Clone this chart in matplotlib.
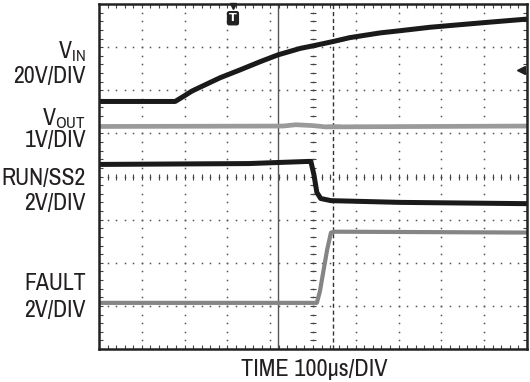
import numpy as np
import matplotlib.pyplot as plt
from matplotlib import font_manager
from matplotlib.font_manager import FontProperties

# procura uma fonte estreita (condensed / narrow); senao usa Liberation Sans
fonte_arq = None
for f in font_manager.fontManager.ttflist:
    if ('Narrow' in f.name or 'Condensed' in f.name or f.stretch in ('condensed', 'semi-condensed')) \
            and f.weight in (400, 'normal', 'regular') and f.style == 'normal':
        fonte_arq = f.fname
        if 'Narrow' in f.name or 'Liberation' in f.name:
            break
if fonte_arq:
    fp = FontProperties(fname=fonte_arq)
else:
    fp = FontProperties(family='Liberation Sans')

# tracos (x e y em divisoes do osciloscopio: 10 x 8)
vin_t = [0, 1.78, 2.01, 2.17, 2.36, 2.83, 3.29, 3.76, 4.18, 4.70, 5.0, 5.47, 5.86, 6.57, 7.03, 7.73, 8.43, 9.14, 10]
vin_v = [5.74, 5.74, 5.88, 5.98, 6.07, 6.29, 6.47, 6.66, 6.82, 6.97, 7.03, 7.13, 7.22, 7.33, 7.38, 7.46, 7.52, 7.58, 7.65]

vout_t = [0, 4.3, 4.6, 5.0, 5.3, 10]
vout_v = [5.16, 5.17, 5.20, 5.18, 5.15, 5.17]

run_t = [0, 3.5, 4.9, 4.95, 5.02, 5.09, 5.18, 5.42, 7.03, 10]
run_v = [4.28, 4.30, 4.35, 4.35, 4.05, 3.63, 3.49, 3.44, 3.40, 3.37]

fault_t = [0, 5.09, 5.16, 5.33, 5.42, 5.51, 10]
fault_v = [1.07, 1.07, 1.33, 2.30, 2.70, 2.72, 2.70]

cursor_a = 4.18
cursor_b = 5.47
trig_t = 3.13
trig_nivel = 6.47

fig = plt.figure(figsize=(5.30, 3.82), dpi=100)
ax = fig.add_axes([99/530, 33/382, 428/530, 345/382])
ax.set_xlim(0, 10)
ax.set_ylim(0, 8)
ax.set_xticks([])
ax.set_yticks([])
for s in ax.spines.values():
    s.set_linewidth(1.8)
    s.set_color('#222222')

# grade pontilhada
pontos = np.arange(0, 10.01, 0.2)
pontos_y = np.arange(0, 8.01, 0.2)
for gx in range(1, 10):
    ax.plot(np.full_like(pontos_y, gx), pontos_y, ls='none', marker='s', ms=1.1, color='#555555', mew=0)
for gy in range(1, 8):
    ax.plot(pontos, np.full_like(pontos, gy), ls='none', marker='s', ms=1.1, color='#555555', mew=0)

# marcas nos eixos centrais e bordas
ax.plot(np.full_like(pontos_y, 5), pontos_y, ls='none', marker='_', ms=4, color='#444444', mew=0.8)
ax.plot(pontos, np.full_like(pontos, 4), ls='none', marker='|', ms=4, color='#444444', mew=0.8)
ax.plot(pontos, np.full_like(pontos, 0.05), ls='none', marker='|', ms=3, color='#444444', mew=0.8)
ax.plot(pontos, np.full_like(pontos, 7.95), ls='none', marker='|', ms=3, color='#444444', mew=0.8)
ax.plot(np.full_like(pontos_y, 0.05), pontos_y, ls='none', marker='_', ms=3, color='#444444', mew=0.8)
ax.plot(np.full_like(pontos_y, 9.95), pontos_y, ls='none', marker='_', ms=3, color='#444444', mew=0.8)

# cursores
ax.axvline(cursor_a, color='#555555', lw=1.0)
ax.axvline(cursor_b, color='#333333', lw=1.0, ls=(0, (3, 2)))
ax.plot([cursor_a - 0.15, cursor_a + 0.15], [5.2, 5.2], color='#333333', lw=1.0)
ax.plot([cursor_b - 0.15, cursor_b + 0.15], [5.2, 5.2], color='#333333', lw=1.0)

# tracos
ax.plot(vout_t, vout_v, color='#9a9a9a', lw=3.4, solid_joinstyle='round')
ax.plot(fault_t, fault_v, color='#858585', lw=3.0, solid_joinstyle='round')
ax.plot(vin_t, vin_v, color='#1a1a1a', lw=3.6, solid_joinstyle='round')
ax.plot(run_t, run_v, color='#1a1a1a', lw=3.6, solid_joinstyle='round')

# marcador de trigger
ax.plot([trig_t], [7.95], marker='v', ms=4, color='#222222', clip_on=False)
ax.text(trig_t, 7.67, 'T', ha='center', va='center', fontsize=8, color='white', fontweight='bold',
        bbox=dict(boxstyle='round,pad=0.2', fc='#222222', ec='none'))
ax.plot([9.87], [trig_nivel], marker='<', ms=6, color='#222222')

# ajusta o tamanho da fonte pela largura medida no original
fig.canvas.draw()
rend = fig.canvas.get_renderer()

def tamanho(texto, alvo):
    t = fig.text(0, 0, texto, fontproperties=fp, fontsize=16.5)
    w = t.get_window_extent(rend).width
    t.remove()
    return min(17.5, 16.5 * alvo / w)

fp_rot = fp.copy()
fp_rot.set_size(tamanho('RUN/SS2', 85))
fp_tempo = fp.copy()
fp_tempo.set_size(tamanho('TIME 100µs/DIV', 160))

plt.rcParams['mathtext.fontset'] = 'custom'
plt.rcParams['mathtext.rm'] = fp.get_name()

def rot(x, y, s):
    fig.text(x/530, 1 - y/382, s, ha='right', va='baseline', fontproperties=fp_rot, color='#231f20')

rot(86, 58, r'$\mathregular{V_{IN}}$')
rot(86, 83, '20V/DIV')
rot(86, 125, r'$\mathregular{V_{OUT}}$')
rot(86, 147, '1V/DIV')
rot(86, 185, 'RUN/SS2')
rot(86, 210, '2V/DIV')
rot(86, 290, 'FAULT')
rot(86, 317, '2V/DIV')
fig.text(314/530, 1 - 376/382, 'TIME 100µs/DIV', ha='center', va='baseline', fontproperties=fp_tempo, color='#231f20')

fig.savefig('out.png', dpi=100)
